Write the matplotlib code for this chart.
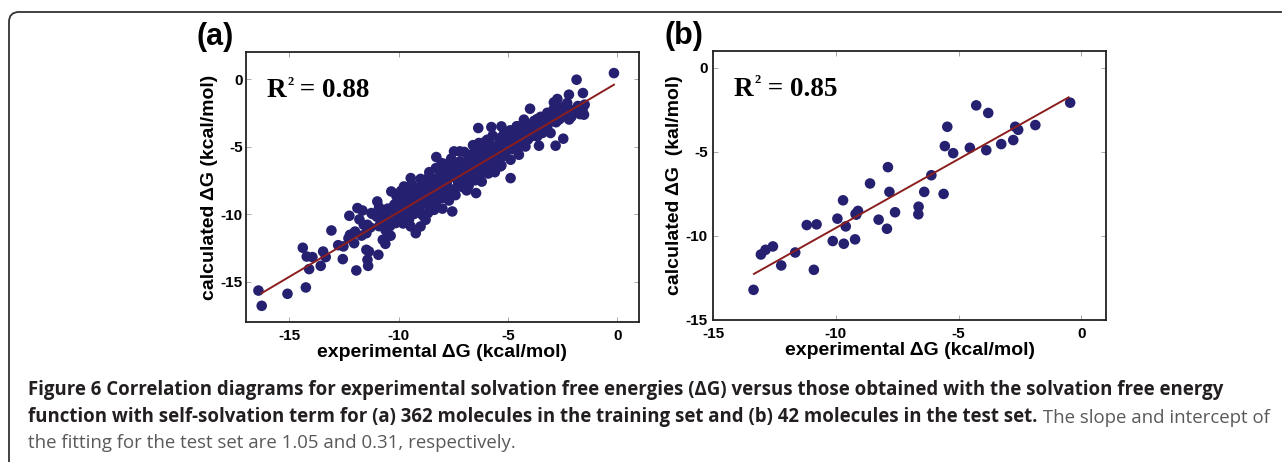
import matplotlib
matplotlib.use("Agg")
import matplotlib.pyplot as plt
from matplotlib.patches import FancyBboxPatch

plt.rcParams['axes.unicode_minus'] = False

# (a) training set (dense band is approximate)
exp_a = [-16.42, -16.27, -15.09, -14.25, -14.39, -14.21, -14.1, -13.95, -13.57, -13.46,
         -13.34, -13.08, -12.77, -12.53, -12.56, -12.23, -12.04, -12.26, -11.94, -11.89,
         -11.66, -11.48, -11.43, -11.40, -11.36, -10.93, -11.48, -11.43, -11.25, -10.98,
         -10.64, -10.73, -10.61, -10.37, -10.44, -10.34, -10.14, -9.91, -9.98, -9.76,
         -9.45, -9.53, -9.45, -9.22, -9.0, -9.04, -8.77, -8.66, -8.38, -8.28,
         -8.03, -7.93, -7.55, -7.47, -7.20, -6.89, -6.46, -6.36, -5.76, -5.30,
         -4.88, -4.57, -3.99, -4.27, -3.66, -3.25, -3.05, -2.82, -2.47, -2.90,
         -2.74, -2.29, -2.21, -1.86, -1.57, -0.15, -1.49, -1.83, -2.06, -1.52,
         -1.60, -2.33, -2.59, -2.82, -3.20, -3.43, -3.78, -3.96, -4.27, -2.67,
         -3.05, -3.43, -3.66, -3.58, -4.04, -4.57, -4.50, -4.91, -5.34, -5.18,
         -5.56, -5.95, -6.02, -6.33, -6.33, -6.55, -6.71, -6.86, -7.09, -7.01,
         -7.32, -7.32, -7.47, -7.77, -7.70, -7.93, -8.16, -8.23, -8.38, -8.61,
         -8.61, -8.84, -8.99, -9.15, -9.30, -9.37, -9.60, -9.76, -5.64, -5.41,
         -6.10, -6.55, -5.34, -4.88, -4.42,
         -11.0, -10.8, -10.5, -10.3, -10.2, -10.0, -9.9, -9.7, -9.6, -9.5,
         -9.4, -9.2, -9.1, -9.0, -8.9, -8.8, -8.7, -8.5, -8.5, -8.4,
         -8.2, -8.1, -8.0, -7.9, -7.8, -7.6, -7.6, -7.4, -7.3, -7.2,
         -7.1, -7.0, -6.9, -6.8, -6.7, -6.6, -6.5, -6.4, -6.3, -6.2,
         -6.1, -6.0, -5.9, -5.8, -5.7, -5.5, -5.4, -5.2, -5.0, -4.8,
         -4.7, -4.5, -4.3, -4.2, -4.0, -3.8, -3.6, -3.4, -3.2, -3.0,
         -2.8, -2.6, -2.4, -2.2, -2.0, -1.8, -1.7,
         -11.3, -11.6, -12.0, -11.2, -10.9, -10.6, -10.4, -9.8, -9.3, -8.9,
         -8.6, -8.3, -8.0, -7.7, -7.4, -7.1, -6.8, -6.5, -6.2, -5.9,
         -5.6, -5.3, -9.9, -9.4, -9.0, -8.6, -8.3, -7.9, -7.6, -7.0,
         -6.6, -6.1, -5.7, -5.2, -4.9, -4.6,
         -10.7, -10.1, -9.8, -9.5, -9.2, -8.9, -8.6, -8.3, -8.0, -7.7,
         -7.4, -7.1, -6.8, -6.5, -6.2, -5.9, -5.6, -5.3, -5.0, -4.7,
         -4.4, -4.1, -3.8, -3.5, -3.2, -2.9, -2.6,
         -10.9, -10.3, -9.7, -9.1, -8.7, -8.2, -7.8, -7.3, -6.9, -6.4,
         -6.0, -5.5, -5.1, -4.6, -4.1, -3.7, -3.3, -2.9, -2.5, -2.1, -1.6,
         -10.1, -9.6, -9.1, -8.6, -8.1, -7.6, -7.2, -6.7, -6.3, -5.8,
         -5.4, -11.8, -11.7, -12.3, -10.5]
calc_a = [-15.67, -16.80, -15.91, -15.44, -12.50, -13.15, -14.08, -13.19, -13.84, -12.78,
          -13.19, -11.22, -12.31, -12.40, -13.34, -11.54, -12.16, -10.13, -14.18, -9.56,
          -9.74, -12.65, -13.39, -13.84, -12.78, -13.02, -11.42, -10.80, -9.93, -9.07,
          -10.06, -11.91, -12.21, -11.61, -10.43, -8.33, -10.67, -9.93, -8.94, -7.96,
          -7.34, -10.43, -10.92, -11.42, -10.92, -9.44, -10.43, -9.93, -9.69, -5.78,
          -6.23, -6.72, -9.81, -5.36, -5.36, -8.25, -8.45, -3.63, -3.56, -3.51,
          -7.34, -3.51, -2.20, -3.01, -2.96, -2.96, -4.0, -4.94, -4.42, -1.73,
          -1.48, -1.78, -1.16, -0.05, -1.04, 0.44, -1.90, -2.27, -2.52, -2.64,
          -2.22, -2.47, -2.47, -2.52, -3.06, -3.26, -3.14, -3.76, -3.51, -3.01,
          -3.14, -4.0, -4.25, -4.94, -4.37, -4.13, -5.61, -4.74, -4.50, -5.49,
          -4.99, -4.50, -5.24, -4.74, -5.98, -5.49, -6.72, -6.23, -6.97, -7.71,
          -7.46, -6.47, -8.20, -7.96, -7.22, -8.45, -7.71, -8.94, -8.20, -7.22,
          -8.94, -8.45, -7.96, -9.07, -8.45, -9.44, -8.94, -9.69, -6.23, -5.98,
          -6.47, -7.22, -6.47, -5.98, -4.99,
          -10.2, -10.6, -9.6, -10.0, -9.3, -10.3, -9.0, -9.2, -10.1, -8.6,
          -9.8, -8.2, -9.6, -8.7, -9.2, -7.8, -8.4, -9.0, -7.6, -8.6,
          -7.3, -8.1, -8.8, -7.0, -7.6, -8.3, -6.8, -7.3, -7.9, -6.1,
          -7.0, -6.5, -7.4, -5.8, -6.3, -7.0, -5.6, -6.4, -5.2, -6.9,
          -5.9, -6.2, -5.1, -5.6, -6.6, -5.3, -4.9, -5.7, -4.6, -5.2,
          -4.3, -4.8, -4.1, -5.0, -3.6, -4.2, -3.4, -3.9, -3.5, -2.7,
          -3.2, -2.9, -2.6, -3.0, -2.3, -2.0, -2.6,
          -11.0, -10.8, -11.3, -10.0, -9.5, -11.2, -10.9, -10.7, -10.0, -10.1,
          -9.5, -9.3, -9.6, -9.0, -8.6, -8.0, -7.9, -7.5, -7.6, -7.0,
          -6.9, -6.4, -8.3, -7.8, -7.4, -6.9, -6.6, -6.3, -5.9, -5.4,
          -4.9, -4.7, -4.2, -4.1, -3.8, -3.5,
          -9.9, -9.7, -9.5, -9.2, -8.9, -8.5, -8.2, -7.9, -7.6, -7.2,
          -6.9, -6.6, -6.4, -6.1, -5.7, -5.4, -5.1, -4.8, -4.4, -4.1,
          -3.8, -3.4, -3.1, -2.8, -2.5, -2.2, -2.1,
          -10.9, -10.5, -9.9, -9.3, -8.8, -8.4, -8.0, -7.5, -7.1, -6.7,
          -6.7, -5.9, -5.4, -5.0, -4.5, -3.7, -3.2, -3.0, -2.4, -2.8, -2.3,
          -8.7, -8.4, -8.1, -7.7, -7.1, -6.5, -6.5, -5.6, -5.5, -4.9,
          -4.4, -10.4, -11.6, -11.8, -11.6]
fit_a_x = [-16.27, -0.15]
fit_a_y = [-15.86, -0.42]

# (b) test set, 42 molecules
exp_b = [-13.36, -13.06, -12.87, -12.57, -12.23, -11.66, -11.19, -10.79, -10.90, -10.13,
         -9.94, -9.71, -9.68, -9.60, -9.22, -9.17, -9.10, -9.20, -8.61, -8.26,
         -7.92, -7.88, -7.82, -7.59, -6.63, -6.64, -6.40, -6.11, -5.61, -5.56,
         -5.46, -5.22, -4.54, -4.28, -3.87, -3.79, -3.26, -2.77, -2.69, -2.57,
         -1.87, -0.45]
calc_b = [-13.21, -11.11, -10.83, -10.63, -11.76, -10.99, -9.36, -9.32, -12.02, -10.31,
          -8.98, -7.89, -10.47, -9.44, -10.21, -8.74, -8.52, -8.70, -6.89, -9.04,
          -9.58, -5.92, -7.39, -8.60, -8.27, -8.72, -7.39, -6.40, -7.51, -4.67,
          -3.52, -5.09, -4.77, -2.25, -4.91, -2.70, -4.55, -4.31, -3.52, -3.70,
          -3.42, -2.09]
fit_b_x = [-13.34, -0.51]
fit_b_y = [-12.26, -1.77]

ticks = [-15, -10, -5, 0]
dot = '#25206f'
red = '#8b1e1e'

fig = plt.figure(figsize=(12.82, 4.62), dpi=100)

# rounded frame, only top-left corner visible
frame = FancyBboxPatch((0.09, -1.0), 14.0, 4.62 - 0.12 + 1.0,
                       boxstyle="round,pad=0,rounding_size=0.1",
                       transform=fig.dpi_scale_trans, fill=False,
                       edgecolor='#333333', linewidth=1.3, clip_on=False)
fig.patches.append(frame)


def panel(rect, x, y, fx, fy, xlim, ylim, ylabel, r2, letter, ypad):
    ax = fig.add_axes(rect)
    ax.scatter(x, y, s=58, color=dot, edgecolors='none', zorder=2)
    ax.plot(fx, fy, color=red, lw=1.4, zorder=3)
    ax.set_xlim(xlim)
    ax.set_ylim(ylim)
    ax.set_xticks(ticks)
    ax.set_yticks(ticks)
    ax.tick_params(direction='in', top=True, right=True, length=3.5,
                   width=0.6, color='#999999', pad=ypad, labelsize=11)
    ax.tick_params(axis='x', pad=5)
    for lab in ax.get_xticklabels() + ax.get_yticklabels():
        lab.set_fontweight('bold')
        lab.set_family('Liberation Sans')
    for s in ax.spines.values():
        s.set_linewidth(1.3)
        s.set_color('#222222')
    ax.set_xlabel('experimental \u0394G (kcal/mol)', fontsize=14, fontweight='bold',
                  family='Liberation Sans', labelpad=1)
    ax.set_ylabel(ylabel, fontsize=14, fontweight='bold',
                  family='Liberation Sans', labelpad=2)
    # R^2 with a small raised 2, as in the original
    r = ax.text(0.052, 0.81, 'R', transform=ax.transAxes, fontsize=19.5,
                fontweight='bold', family='Liberation Serif', va='bottom')
    sup = ax.annotate('2', xy=(1, 1), xycoords=r, xytext=(1, 2),
                      textcoords='offset points', va='top', ha='left',
                      fontsize=9, fontweight='bold', family='Liberation Serif')
    ax.annotate(' = ' + r2, xy=(1, 0), xycoords=(sup, r), xytext=(0, 0),
                textcoords='offset points', va='bottom', ha='left',
                fontsize=19.5, fontweight='bold', family='Liberation Serif')
    ax.text(-0.125, 1.0, letter, transform=ax.transAxes, fontsize=22,
            fontweight='bold', family='Liberation Sans', va='bottom')
    return ax


panel([0.1917, 0.303, 0.3068, 0.5844], exp_a, calc_a, fit_a_x, fit_a_y,
      (-17, 1), (-18, 2), 'calculated \u0394G (kcal/mol)', '0.88', '(a)', 2)
panel([0.5564, 0.3074, 0.3061, 0.5829], exp_b, calc_b, fit_b_x, fit_b_y,
      (-15, 1), (-15, 1), 'calculated \u0394G  (kal/mol)', '0.85', '(b)', 4)

# caption
cap_font = 'Open Sans'
fs = 13.4
x0 = 28 / 1282
fig.text(x0, 1 - 390 / 462, 'Figure 6 Correlation diagrams for experimental solvation free energies (\u0394G) '
         'versus those obtained with the solvation free energy',
         fontsize=fs, fontweight='bold', family=cap_font, color='#231f20', va='center')
t2 = fig.text(x0, 1 - 417 / 462, 'function with self-solvation term for (a) 362 molecules in the training set '
              'and (b) 42 molecules in the test set.',
              fontsize=fs, fontweight='bold', family=cap_font, color='#231f20', va='center')
plt.annotate(' The slope and intercept of', xy=(1, 0), xycoords=t2, xytext=(0, 0),
             textcoords='offset points', va='bottom', ha='left',
             fontsize=fs, family=cap_font, color='#58595b')
fig.text(x0, 1 - 443 / 462, 'the fitting for the test set are 1.05 and 0.31, respectively.',
         fontsize=fs, family=cap_font, color='#58595b', va='center')

fig.savefig('out.png', dpi=100)
